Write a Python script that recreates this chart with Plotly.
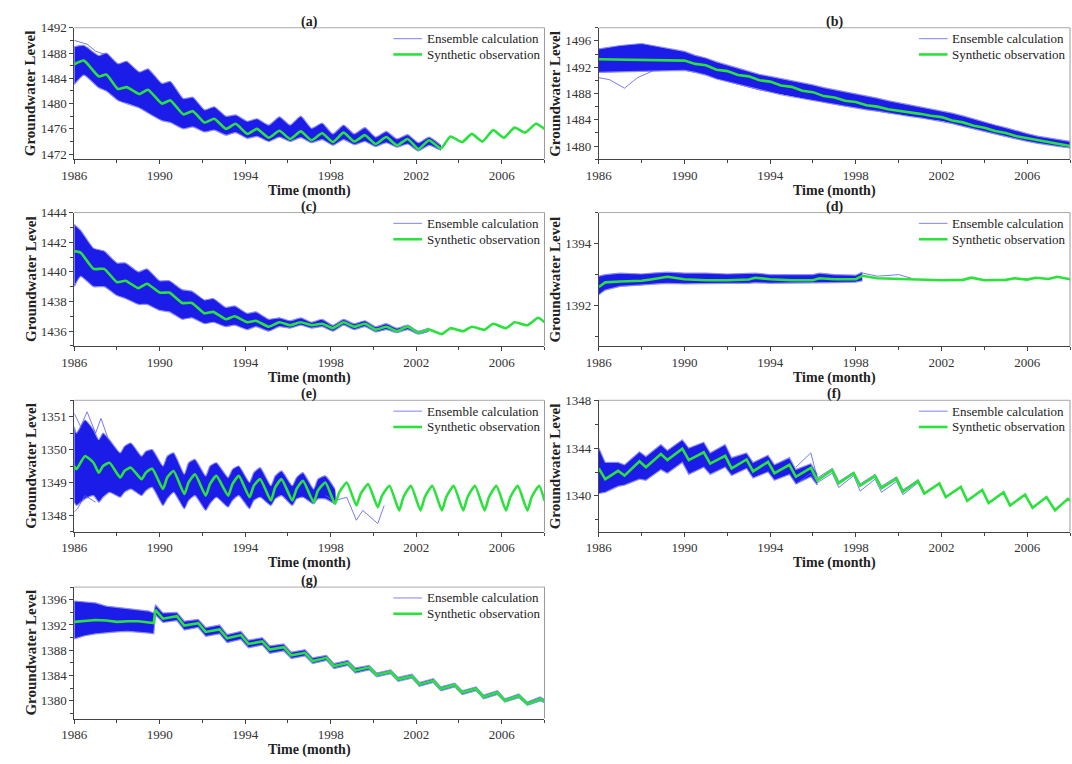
import plotly.graph_objects as go

W, H = 1072, 764
FONT = "Liberation Serif"

# ---------------- (a) ----------------
a_t = [1986.0, 1986.45, 1987.15, 1987.5, 1988.05, 1988.45, 1989.05, 1989.45, 1990.1, 1990.5,
       1991.1, 1991.55, 1992.1, 1992.55, 1993.1, 1993.55, 1994.1, 1994.55, 1995.1, 1995.6,
       1996.1, 1996.6, 1997.1, 1997.6, 1998.1, 1998.6, 1999.1, 1999.6, 2000.1, 2000.6,
       2001.1, 2001.6, 2002.1, 2002.6, 2003.15, 2003.6, 2004.15, 2004.6, 2005.1, 2005.6,
       2006.1, 2006.6, 2007.1, 2007.6, 2008.0]
a_obs = [1486.2, 1486.8, 1484.3, 1484.6, 1482.3, 1482.6, 1481.5, 1482.2, 1480.0, 1480.5,
         1478.3, 1478.8, 1477.0, 1477.6, 1476.0, 1476.8, 1475.2, 1476.0, 1474.6, 1475.7,
         1474.4, 1475.6, 1474.2, 1475.3, 1473.9, 1475.4, 1474.0, 1475.0, 1473.6, 1474.7,
         1473.4, 1474.4, 1472.8, 1474.2, 1472.9, 1474.8, 1473.9, 1475.2, 1474.0, 1475.8,
         1474.6, 1476.2, 1475.4, 1476.8, 1476.0]
a_hi = [1489.0, 1489.2, 1487.6, 1488.0, 1486.3, 1486.7, 1485.0, 1485.5, 1483.2, 1483.5,
        1480.8, 1481.0, 1479.0, 1479.5, 1478.0, 1478.2, 1477.2, 1477.6, 1476.6, 1477.9,
        1476.6, 1478.0, 1476.1, 1476.9, 1475.2, 1476.6, 1475.2, 1476.2, 1474.7, 1475.6,
        1474.4, 1475.1, 1473.8, 1474.7, 1473.4]
a_lo = [1483.0, 1484.5, 1482.5, 1482.0, 1480.5, 1480.0, 1479.3, 1478.5, 1477.3, 1477.0,
        1476.0, 1476.3, 1475.5, 1475.8, 1475.0, 1475.4, 1474.5, 1474.8, 1474.0, 1474.7,
        1474.0, 1474.6, 1473.8, 1474.3, 1473.4, 1474.3, 1473.5, 1474.0, 1473.2, 1473.8,
        1473.1, 1473.6, 1472.5, 1473.4, 1472.6]
a_member_t = [1986.0, 1986.3, 1986.6, 1987.0, 1987.4]
a_member = [1490.0, 1489.7, 1489.4, 1488.3, 1487.8]

# ---------------- (b) ----------------
b_t = [1986.0, 1987.0, 1988.0, 1989.0, 1990.0, 1990.5, 1991.0, 1991.5, 1992.0, 1992.5,
       1993.0, 1993.5, 1994.0, 1994.5, 1995.0, 1995.5, 1996.0, 1996.5, 1997.0, 1997.5,
       1998.0, 1998.5, 1999.0, 1999.5, 2000.0, 2000.5, 2001.0, 2001.5, 2002.0, 2002.5,
       2003.0, 2003.5, 2004.0, 2004.5, 2005.0, 2005.5, 2006.0, 2006.5, 2007.0, 2007.5, 2008.0]
b_obs = [1493.2, 1493.15, 1493.1, 1493.05, 1493.0, 1492.5, 1492.3, 1491.6, 1491.4, 1490.8,
         1490.6, 1490.0, 1489.8, 1489.2, 1489.0, 1488.4, 1488.2, 1487.6, 1487.4, 1486.9,
         1486.7, 1486.2, 1486.0, 1485.6, 1485.4, 1485.1, 1484.9, 1484.6, 1484.4, 1483.9,
         1483.6, 1483.1, 1482.8, 1482.3, 1482.0, 1481.5, 1481.2, 1480.8, 1480.6, 1480.2, 1480.0]
b_hi = [1494.8, 1495.3, 1495.6, 1495.0, 1494.4, 1493.8, 1493.4, 1492.8, 1492.3, 1491.8,
        1491.4, 1490.9, 1490.6, 1490.3, 1490.0, 1489.6, 1489.3, 1488.9, 1488.6, 1488.2,
        1487.9, 1487.6, 1487.3, 1486.9, 1486.6, 1486.3, 1486.0, 1485.7, 1485.4, 1485.0,
        1484.6, 1484.1, 1483.7, 1483.2, 1482.8, 1482.3, 1481.9, 1481.5, 1481.2, 1480.9, 1480.7]
b_lo = [1491.2, 1491.3, 1491.3, 1491.4, 1491.5, 1491.2, 1490.8, 1490.2, 1489.8, 1489.3,
        1488.9, 1488.5, 1488.2, 1487.8, 1487.5, 1487.2, 1486.9, 1486.6, 1486.3, 1486.0,
        1485.8, 1485.5, 1485.3, 1485.0, 1484.8, 1484.5, 1484.3, 1484.0, 1483.8, 1483.4,
        1483.0, 1482.6, 1482.2, 1481.8, 1481.4, 1481.0, 1480.7, 1480.4, 1480.1, 1479.9, 1479.7]
b_member_t = [1986.0, 1986.5, 1987.2, 1987.8, 1988.5]
b_member = [1490.4, 1490.1, 1488.8, 1490.4, 1491.4]

# ---------------- (c) ----------------
c_t = [1986.0, 1986.3, 1986.9, 1987.4, 1988.0, 1988.4, 1989.0, 1989.4, 1990.0, 1990.45,
       1991.05, 1991.5, 1992.1, 1992.5, 1993.1, 1993.5, 1994.1, 1994.5, 1995.1, 1995.6,
       1996.1, 1996.6, 1997.1, 1997.6, 1998.1, 1998.6, 1999.1, 1999.6, 2000.1, 2000.6,
       2001.1, 2001.6, 2002.1, 2002.6, 2003.2, 2003.6, 2004.2, 2004.6, 2005.2, 2005.6,
       2006.2, 2006.6, 2007.2, 2007.7, 2008.0]
c_obs = [1441.4, 1441.3, 1440.2, 1440.2, 1439.3, 1439.4, 1438.9, 1439.2, 1438.6, 1438.6,
         1437.9, 1437.9, 1437.2, 1437.3, 1436.8, 1437.0, 1436.6, 1436.7, 1436.3, 1436.6,
         1436.4, 1436.6, 1436.4, 1436.5, 1436.2, 1436.6, 1436.3, 1436.5, 1436.1, 1436.3,
         1436.0, 1436.3, 1435.9, 1436.1, 1435.8, 1436.2, 1436.0, 1436.3, 1436.1, 1436.5,
         1436.2, 1436.6, 1436.4, 1436.9, 1436.6]
c_hi = [1443.2, 1442.8, 1441.6, 1441.4, 1440.6, 1440.6, 1440.0, 1440.2, 1439.4, 1439.4,
        1438.8, 1438.7, 1438.1, 1438.2, 1437.6, 1437.7, 1437.2, 1437.3, 1436.8, 1436.9,
        1436.7, 1436.9, 1436.6, 1436.8, 1436.4, 1436.8, 1436.5, 1436.7, 1436.3, 1436.5,
        1436.2, 1436.4, 1436.0, 1436.2]
c_lo = [1439.0, 1439.7, 1439.0, 1439.0, 1438.4, 1438.2, 1437.8, 1437.8, 1437.4, 1437.3,
        1436.8, 1436.9, 1436.5, 1436.6, 1436.3, 1436.4, 1436.1, 1436.3, 1436.0, 1436.3,
        1436.2, 1436.4, 1436.2, 1436.3, 1436.0, 1436.4, 1436.1, 1436.3, 1435.95, 1436.1,
        1435.9, 1436.1, 1435.8, 1436.0]

# ---------------- (d) ----------------
d_t = [1986.0, 1986.3, 1987.0, 1988.0, 1988.5, 1989.2, 1990.0, 1991.0, 1992.0, 1993.0,
       1993.3, 1994.0, 1995.0, 1996.0, 1996.3, 1997.0, 1998.0, 1998.3, 1999.0, 2000.0,
       2001.0, 2002.0, 2003.0, 2003.4, 2004.0, 2005.0, 2005.4, 2006.0, 2006.4, 2007.0,
       2007.4, 2008.0]
d_obs = [1392.6, 1392.75, 1392.78, 1392.8, 1392.85, 1392.93, 1392.85, 1392.82, 1392.82, 1392.84,
         1392.9, 1392.85, 1392.82, 1392.82, 1392.88, 1392.85, 1392.85, 1392.96, 1392.88, 1392.86,
         1392.83, 1392.82, 1392.83, 1392.9, 1392.82, 1392.83, 1392.88, 1392.84, 1392.9, 1392.86,
         1392.93, 1392.85]
d_hi = [1392.95, 1393.0, 1393.05, 1393.02, 1393.05, 1393.08, 1393.05, 1393.05, 1393.02, 1393.03,
        1393.05, 1393.0, 1393.0, 1393.0, 1393.05, 1393.0, 1392.98, 1393.08]
d_lo = [1392.35, 1392.5, 1392.62, 1392.66, 1392.7, 1392.72, 1392.7, 1392.72, 1392.72, 1392.72,
        1392.74, 1392.72, 1392.72, 1392.72, 1392.74, 1392.74, 1392.76, 1392.8]
d_member_t = [1998.3, 1999.0, 1999.5, 2000.0, 2000.6]
d_member = [1393.05, 1392.95, 1392.97, 1393.0, 1392.88]

# ---------------- (e) ----------------
e_t = [1986.0, 1986.1, 1986.5, 1986.9,
       1987.15, 1987.35, 1987.65, 1988.15, 1988.35, 1988.65, 1989.15, 1989.35, 1989.65,
       1990.15, 1990.35, 1990.65, 1991.15, 1991.35, 1991.65, 1992.15, 1992.35, 1992.65,
       1993.2, 1993.4, 1993.7, 1994.2, 1994.4, 1994.7, 1995.2, 1995.4, 1995.7,
       1996.2, 1996.4, 1996.7, 1997.2, 1997.4, 1997.75, 1998.2, 1998.4, 1998.75,
       1999.2, 1999.4, 1999.75, 2000.2, 2000.4, 2000.75, 2001.2, 2001.4, 2001.75,
       2002.2, 2002.4, 2002.75, 2003.2, 2003.4, 2003.75, 2004.2, 2004.4, 2004.75,
       2005.2, 2005.4, 2005.75, 2006.2, 2006.4, 2006.75, 2007.2, 2007.4, 2007.75, 2008.0]
e_obs = [1349.5, 1349.4, 1349.8, 1349.6,
         1349.3, 1349.5, 1349.6, 1349.15, 1349.35, 1349.45, 1349.1, 1349.3, 1349.42,
         1348.8, 1349.15, 1349.35, 1348.65, 1349.0, 1349.25, 1348.6, 1348.95, 1349.2,
         1348.6, 1348.95, 1349.2, 1348.55, 1348.9, 1349.1, 1348.45, 1348.85, 1349.1,
         1348.45, 1348.8, 1349.05, 1348.4, 1348.75, 1349.0, 1348.35, 1348.7, 1349.0,
         1348.3, 1348.65, 1348.95, 1348.25, 1348.6, 1348.9, 1348.15, 1348.55, 1348.9,
         1348.15, 1348.55, 1348.9, 1348.15, 1348.55, 1348.9, 1348.15, 1348.55, 1348.9,
         1348.15, 1348.55, 1348.9, 1348.15, 1348.55, 1348.9, 1348.15, 1348.55, 1348.9, 1348.45]
e_hi = [1350.7, 1350.5, 1350.9, 1350.6,
        1350.3, 1350.5, 1350.3, 1349.9, 1350.1, 1350.2, 1349.8, 1349.95, 1350.0,
        1349.5, 1349.8, 1349.9, 1349.25, 1349.6, 1349.7, 1349.2, 1349.5, 1349.6,
        1349.15, 1349.4, 1349.5, 1349.0, 1349.3, 1349.45, 1348.9, 1349.2, 1349.35,
        1348.9, 1349.15, 1349.3, 1348.8, 1349.1, 1349.2, 1348.8]
e_lo = [1348.4, 1348.3, 1348.5, 1348.6,
        1348.4, 1348.55, 1348.7, 1348.55, 1348.7, 1348.8, 1348.6, 1348.75, 1348.85,
        1348.3, 1348.5, 1348.7, 1348.2, 1348.45, 1348.6, 1348.15, 1348.35, 1348.55,
        1348.25, 1348.45, 1348.6, 1348.2, 1348.45, 1348.55, 1348.3, 1348.5, 1348.6,
        1348.3, 1348.5, 1348.55, 1348.35, 1348.5, 1348.5, 1348.35]
e_member_t = [1997.75, 1998.2, 1998.75, 1999.2, 1999.5, 2000.2, 2000.5]
e_member = [1348.6, 1348.45, 1348.55, 1347.85, 1348.15, 1347.75, 1348.3]
e_member2_t = [1986.0, 1986.3, 1986.6, 1987.0, 1987.25, 1987.6]
e_member2 = [1351.1, 1350.7, 1351.15, 1350.5, 1350.95, 1350.3]
e_member3_t = [1986.0, 1986.15, 1986.5, 1987.0]
e_member3 = [1348.1, 1348.2, 1348.6, 1348.4]

# ---------------- (f) ----------------
f_t = [1986.0, 1986.3, 1986.9, 1987.2, 1987.9, 1988.2, 1988.9, 1989.2, 1989.9, 1990.2,
       1990.9, 1991.2, 1991.9, 1992.2, 1992.9, 1993.2, 1993.9, 1994.2, 1994.9, 1995.2,
       1995.9, 1996.2, 1996.9, 1997.2, 1997.9, 1998.2, 1998.9, 1999.2, 1999.9, 2000.2,
       2000.9, 2001.2, 2001.9, 2002.2, 2002.9, 2003.2, 2003.9, 2004.2, 2004.9, 2005.2,
       2005.9, 2006.25, 2006.9, 2007.3, 2007.9, 2008.0]
f_obs = [1342.3, 1341.4, 1342.1, 1341.7, 1342.9, 1342.4, 1343.5, 1343.0, 1343.95, 1343.0,
         1343.65, 1342.7, 1343.35, 1342.3, 1343.05, 1342.05, 1342.85, 1341.9, 1342.6, 1341.6,
         1342.35, 1341.3, 1342.15, 1341.05, 1341.9, 1340.85, 1341.65, 1340.65, 1341.45, 1340.35,
         1341.25, 1340.2, 1341.05, 1339.9, 1340.75, 1339.6, 1340.5, 1339.4, 1340.3, 1339.2,
         1340.1, 1339.0, 1339.9, 1338.8, 1339.75, 1339.6]
f_hi = [1344.0, 1342.8, 1342.8, 1342.6, 1343.7, 1343.3, 1344.3, 1343.8, 1344.7, 1344.0,
        1344.5, 1343.6, 1344.3, 1343.2, 1343.6, 1342.8, 1343.4, 1342.6, 1343.2, 1342.2,
        1342.7, 1341.8]
f_lo = [1340.2, 1340.3, 1340.8, 1340.9, 1341.4, 1341.3, 1342.2, 1341.9, 1342.8, 1341.8,
        1342.4, 1341.8, 1342.4, 1341.7, 1342.3, 1341.5, 1342.0, 1341.3, 1341.8, 1341.0,
        1341.6, 1340.9]
f_member_t = [1995.2, 1995.9, 1996.2, 1996.9, 1997.2, 1997.9, 1998.2, 1998.9, 1999.2, 1999.9,
              2000.2, 2000.9, 2001.2]
f_member_hi = [1342.4, 1343.6, 1341.5, 1342.3, 1341.2, 1342.0, 1341.0, 1341.8, 1340.8, 1341.6,
               1340.5, 1341.35, 1340.3]
f_member_lo = [1341.0, 1341.9, 1341.1, 1341.9, 1340.7, 1341.7, 1340.4, 1341.4, 1340.3, 1341.2,
               1340.1, 1341.1, 1340.1]

# ---------------- (g) ----------------
g_t = [1986.0, 1986.5, 1987.0, 1987.5, 1988.0, 1988.5, 1989.0, 1989.5, 1989.72, 1989.8,
       1990.15, 1990.8, 1991.15, 1991.8, 1992.15, 1992.8, 1993.15, 1993.8, 1994.15, 1994.8,
       1995.15, 1995.8, 1996.15, 1996.8, 1997.15, 1997.8, 1998.15, 1998.8, 1999.15, 1999.8,
       2000.15, 2000.8, 2001.15, 2001.8, 2002.15, 2002.8, 2003.15, 2003.8, 2004.15, 2004.8,
       2005.15, 2005.8, 2006.15, 2006.8, 2007.2, 2007.8, 2008.0]
g_obs = [1392.5, 1392.6, 1392.8, 1392.7, 1392.5, 1392.6, 1392.6, 1392.4, 1392.3, 1394.4,
         1393.0, 1393.4, 1391.9, 1392.3, 1390.9, 1391.3, 1389.9, 1390.4, 1389.0, 1389.4,
         1388.1, 1388.5, 1387.2, 1387.6, 1386.3, 1386.8, 1385.5, 1386.0, 1384.8, 1385.3,
         1384.1, 1384.6, 1383.4, 1383.9, 1382.6, 1383.2, 1381.9, 1382.5, 1381.3, 1381.9,
         1380.6, 1381.3, 1380.0, 1380.8, 1379.5, 1380.3, 1379.9]
g_hi = [1395.8, 1395.7, 1395.5, 1395.0, 1394.8, 1394.6, 1394.4, 1394.2, 1393.9, 1395.2,
        1393.9, 1394.0, 1392.6, 1392.9, 1391.6, 1392.0, 1390.5, 1391.0, 1389.6, 1390.0,
        1388.7, 1389.0, 1387.7, 1388.1, 1386.8, 1387.2, 1385.9, 1386.4, 1385.2, 1385.6,
        1384.4, 1384.9, 1383.7, 1384.2, 1382.9, 1383.5, 1382.2, 1382.8, 1381.6, 1382.2,
        1380.9, 1381.6, 1380.3, 1381.1, 1379.8, 1380.6, 1380.2]
g_lo = [1389.8, 1390.3, 1390.6, 1390.8, 1390.9, 1391.0, 1390.9, 1390.7, 1390.6, 1393.6,
        1392.4, 1392.7, 1391.2, 1391.6, 1390.2, 1390.6, 1389.2, 1389.7, 1388.4, 1388.8,
        1387.5, 1387.9, 1386.7, 1387.1, 1385.9, 1386.4, 1385.1, 1385.6, 1384.4, 1384.9,
        1383.8, 1384.3, 1383.1, 1383.6, 1382.3, 1382.9, 1381.6, 1382.2, 1381.0, 1381.6,
        1380.3, 1381.0, 1379.8, 1380.5, 1379.3, 1380.0, 1379.7]

x_ticks = [1986, 1990, 1994, 1998, 2002, 2006]
x_minor = [1988, 1992, 1996, 2000, 2004, 2008]
legend_labels = ["Ensemble calculation", "Synthetic observation"]

# Panel frames in pixels: two columns, four rows
COLS = [(62, 538), (593, 1070)]
ROWS = [(21, 154), (208, 343), (398, 531), (587, 720)]

panels = [
    dict(name="a", t=a_t, obs=a_obs, hi=a_hi, lo=a_lo, members=[(a_member_t, a_member)],
         yr=[1471.2, 1492], tick0=1472, dtick=4, minor=2, col=0, row=0, smooth=True),
    dict(name="b", t=b_t, obs=b_obs, hi=b_hi, lo=b_lo, members=[(b_member_t, b_member)],
         yr=[1478, 1498], tick0=1480, dtick=4, minor=2, col=1, row=0, smooth=False),
    dict(name="c", t=c_t, obs=c_obs, hi=c_hi, lo=c_lo, members=[],
         yr=[1435, 1444], tick0=1436, dtick=2, minor=1, col=0, row=1, smooth=True),
    dict(name="d", t=d_t, obs=d_obs, hi=d_hi, lo=d_lo, members=[(d_member_t, d_member)],
         yr=[1390.7, 1395], tick0=1392, dtick=2, minor=1, col=1, row=1, smooth=False),
    dict(name="e", t=e_t, obs=e_obs, hi=e_hi, lo=e_lo,
         members=[(e_member_t, e_member), (e_member2_t, e_member2), (e_member3_t, e_member3)],
         yr=[1347.5, 1351.5], tick0=1348, dtick=1, minor=0.5, col=0, row=2, smooth=True),
    dict(name="f", t=f_t, obs=f_obs, hi=f_hi, lo=f_lo,
         members=[(f_member_t, f_member_hi), (f_member_t, f_member_lo)],
         yr=[1337, 1348], tick0=1340, dtick=4, minor=2, col=1, row=2, smooth=False),
    dict(name="g", t=g_t, obs=g_obs, hi=g_hi, lo=g_lo, members=[],
         yr=[1377.2, 1398], tick0=1380, dtick=4, minor=2, col=0, row=3, smooth=False),
]

BAND_FILL = "rgb(28,28,232)"
EDGE = "rgba(140,140,250,0.95)"
MEMBER = "rgba(90,90,240,0.9)"
LEGEND_BLUE = "rgb(150,150,245)"
GREEN = "#2be23c"
AXIS = "#444444"

tick_font = dict(family=FONT, size=13, color="#333333")
xtitle_font = dict(family=FONT, size=14, color="#222222")
ytitle_font = dict(family=FONT, size=15, color="#222222")
legend_font = dict(family=FONT, size=13, color="#222222")

fig = go.Figure()
annotations, shapes = [], []
layout = dict(width=W, height=H, margin=dict(l=0, r=0, t=0, b=0),
              paper_bgcolor="white", plot_bgcolor="white", showlegend=False)


def px(x):
    return x / W


def py(y):
    return 1 - y / H


for i, p in enumerate(panels):
    k = "" if i == 0 else str(i + 1)
    xa, ya = "x" + k, "y" + k
    x0, x1 = COLS[p["col"]]
    top, bot = ROWS[p["row"]]
    shape = "spline" if p["smooth"] else "linear"

    n = len(p["hi"])
    bt = p["t"][:n]
    # spread of the ensemble runs as a filled envelope with light edges
    fig.add_trace(go.Scatter(x=bt + bt[::-1], y=p["hi"] + p["lo"][::-1], xaxis=xa, yaxis=ya,
                             mode="lines", fill="toself", fillcolor=BAND_FILL,
                             line=dict(width=0, shape=shape, smoothing=0.5),
                             hoverinfo="skip"))
    for edge in (p["hi"], p["lo"]):
        fig.add_trace(go.Scatter(x=bt, y=edge, xaxis=xa, yaxis=ya, mode="lines",
                                 line=dict(color=EDGE, width=1.2, shape=shape, smoothing=0.5),
                                 hoverinfo="skip"))
    for mt, mv in p["members"]:
        fig.add_trace(go.Scatter(x=mt, y=mv, xaxis=xa, yaxis=ya, mode="lines",
                                 line=dict(color=MEMBER, width=0.9), hoverinfo="skip"))
    fig.add_trace(go.Scatter(x=p["t"], y=p["obs"], xaxis=xa, yaxis=ya, mode="lines",
                             line=dict(color=GREEN, width=2.6, shape=shape, smoothing=0.5),
                             name="Synthetic observation"))

    layout["xaxis" + k] = dict(
        domain=[px(x0), px(x1)], anchor=ya, range=[1986, 2008], tickvals=x_ticks,
        ticks="outside", ticklen=4, tickwidth=1, tickcolor=AXIS,
        showline=True, linecolor=AXIS, linewidth=1, showgrid=False, zeroline=False,
        minor=dict(tickvals=x_minor, ticks="outside", ticklen=3, tickcolor=AXIS,
                   showgrid=False),
        tickfont=tick_font, fixedrange=True)
    layout["yaxis" + k] = dict(
        domain=[py(bot), py(top)], anchor=xa, range=p["yr"], tick0=p["tick0"],
        dtick=p["dtick"], ticks="outside", ticklen=4, tickwidth=1, tickcolor=AXIS,
        showline=True, linecolor=AXIS, linewidth=1, showgrid=False, zeroline=False,
        minor=dict(dtick=p["minor"], tick0=p["tick0"], ticks="outside", ticklen=3,
                   tickcolor=AXIS, showgrid=False),
        tickfont=tick_font, fixedrange=True)

    # light frame on top and right
    shapes.append(dict(type="line", xref="paper", yref="paper", x0=px(x0), x1=px(x1),
                       y0=py(top), y1=py(top), line=dict(color="#aaaaaa", width=1)))
    shapes.append(dict(type="line", xref="paper", yref="paper", x0=px(x1), x1=px(x1),
                       y0=py(bot), y1=py(top), line=dict(color="#999999", width=1)))

    # legend: short line sample followed by the label
    for j, (label, col, wid) in enumerate(zip(legend_labels, [LEGEND_BLUE, GREEN], [1.2, 2.6])):
        yy = top + 11 + 16 * j
        shapes.append(dict(type="line", xref="paper", yref="paper",
                           x0=px(x1 - 153), x1=px(x1 - 124), y0=py(yy), y1=py(yy),
                           line=dict(color=col, width=wid)))
        annotations.append(dict(text=label, x=px(x1 - 121), y=py(yy), xref="paper",
                                yref="paper", xanchor="left", yanchor="middle",
                                showarrow=False, font=legend_font))

    cx = px((x0 + x1) / 2)
    annotations.append(dict(text="<b>(%s)</b>" % p["name"], x=cx, y=py(top - 6),
                            xref="paper", yref="paper", xanchor="center", yanchor="middle",
                            showarrow=False, font=dict(family=FONT, size=14, color="#222222")))
    annotations.append(dict(text="<b>Time (month)</b>", x=cx, y=py(bot + 32), xref="paper",
                            yref="paper", xanchor="center", yanchor="middle",
                            showarrow=False, font=xtitle_font))
    annotations.append(dict(text="<b>Groundwater Level</b>", x=px(x0 - 44),
                            y=py((top + bot) / 2), xref="paper", yref="paper",
                            xanchor="center", yanchor="middle", textangle=-90,
                            showarrow=False, font=ytitle_font))

layout["annotations"] = annotations
layout["shapes"] = shapes
fig.update_layout(**layout)
fig.write_html("out.html")
